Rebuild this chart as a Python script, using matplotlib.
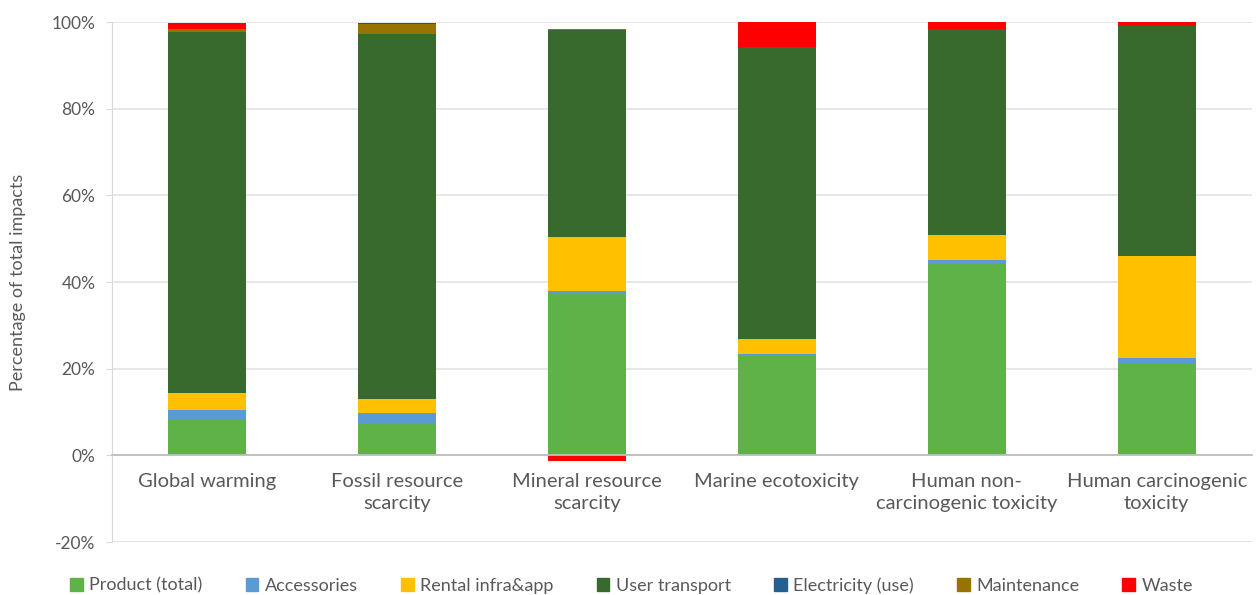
import matplotlib
matplotlib.use("Agg")
import matplotlib.pyplot as plt
import matplotlib.patches as mpatches
import numpy as np
from matplotlib.ticker import PercentFormatter

# impact categories (x axis)
CATEGORIES = [
    "Global warming",
    "Fossil resource\nscarcity",
    "Mineral resource\nscarcity",
    "Marine ecotoxicity",
    "Human non-\ncarcinogenic toxicity",
    "Human carcinogenic\ntoxicity",
]

# contribution of each life-cycle stage, % of total impacts
PRODUCT     = [8.4, 7.2, 37.5, 23.2, 44.4, 21.3]
ACCESSORIES = [2.1, 2.6, 0.4, 0.3, 0.6, 1.1]
RENTAL      = [3.9, 3.1, 12.4, 3.4, 5.8, 23.5]
TRANSPORT   = [83.2, 84.3, 47.9, 67.0, 47.4, 53.2]
ELECTRICITY = [0.1, 0.1, 0.0, 0.4, 0.1, 0.0]
MAINTENANCE = [0.6, 2.2, 0.2, 0.0, 0.0, 0.0]
WASTE       = [1.5, 0.3, -1.4, 5.6, 1.7, 0.9]

SERIES = [
    ("Product (total)",   PRODUCT,     "#5FB247"),
    ("Accessories",       ACCESSORIES, "#5B9BD5"),
    ("Rental infra&app",  RENTAL,      "#FFC000"),
    ("User transport",    TRANSPORT,   "#386A2D"),
    ("Electricity (use)", ELECTRICITY, "#255E91"),
    ("Maintenance",       MAINTENANCE, "#997300"),
    ("Waste",             WASTE,       "#FF0000"),
]

TXT = "#595959"
plt.rcParams["font.family"] = ["Lato", "DejaVu Sans"]
plt.rcParams["axes.unicode_minus"] = False

fig = plt.figure(figsize=(12.58, 5.95), dpi=100)
ax = fig.add_axes([0.089, 0.089, 0.906, 0.874])

x = np.arange(len(CATEGORIES))
pos_base = np.zeros(len(CATEGORIES))
neg_base = np.zeros(len(CATEGORIES))
for name, vals, col in SERIES:
    v = np.array(vals, dtype=float)
    bottom = np.where(v >= 0, pos_base, neg_base)
    ax.bar(x, v, 0.41, bottom=bottom, color=col, zorder=3)
    pos_base += np.where(v >= 0, v, 0)
    neg_base += np.where(v < 0, v, 0)

# category axis sits on the 0% line
for s in ["top", "right"]:
    ax.spines[s].set_visible(False)
ax.spines["left"].set_color("#D9D9D9")
ax.spines["bottom"].set_position(("data", 0))
ax.spines["bottom"].set_color("#BFBFBF")
ax.spines["bottom"].set_linewidth(1.3)
ax.spines["bottom"].set_zorder(4)

ax.set_xlim(-0.5, len(CATEGORIES) - 0.5)
ax.set_ylim(-20, 100)
ax.set_yticks(np.arange(-20, 101, 20))
ax.yaxis.set_major_formatter(PercentFormatter(decimals=0))
ax.yaxis.grid(True, color="#E3E3E3", linewidth=1.2, zorder=0)
ax.axhline(-20, color="#E3E3E3", linewidth=1.2, zorder=0)

ax.set_xticks(x)
ax.set_xticklabels(CATEGORIES, linespacing=1.35)
ax.tick_params(axis="x", length=0, pad=13, labelsize=14.5, labelcolor=TXT)
ax.tick_params(axis="y", length=4, color="#D9D9D9", labelsize=12.5, labelcolor=TXT, pad=8)

ax.set_ylabel("Percentage of total impacts", fontsize=13, color=TXT, labelpad=18)

handles = [mpatches.Patch(color=c, label=n) for n, _, c in SERIES]
fig.legend(handles=handles, loc="lower center", bbox_to_anchor=(0.502, -0.025), ncol=7,
           frameon=False, fontsize=13, labelcolor=TXT, handlelength=0.7,
           handleheight=0.7, handletextpad=0.35, columnspacing=2.4)

fig.savefig("out.png", dpi=100)
